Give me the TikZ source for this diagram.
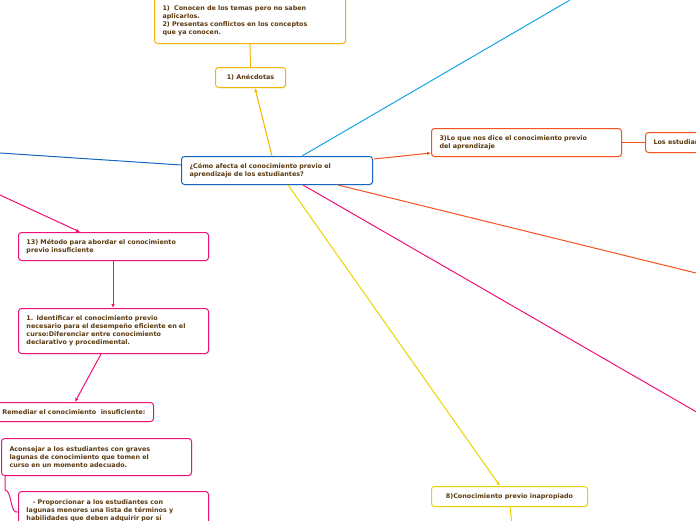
\documentclass[tikz,border=0pt]{standalone}
\usepackage{fontspec}
\setmainfont{DejaVu Sans}
\usetikzlibrary{arrows.meta,shadows}
\definecolor{txt}{HTML}{5A3A10}
\definecolor{cyanl}{HTML}{14A5E3}
\definecolor{bluel}{HTML}{1565C0}
\definecolor{orng}{HTML}{F5B400}
\definecolor{redo}{HTML}{F4511E}
\definecolor{pnk}{HTML}{F0107A}
\definecolor{ylw}{HTML}{EED200}
\begin{document}
\begin{tikzpicture}[x=1pt,y=-1pt, font=\bfseries\fontsize{6.4}{8}\selectfont, text=txt, line width=1pt]
  \tikzset{
    topic/.style={draw=#1, fill=white, rounded corners=3pt, drop shadow={opacity=0.15,shadow xshift=0.8pt,shadow yshift=-0.8pt},
      align=left, inner xsep=8pt, inner ysep=3pt, anchor=north west},
    conn/.style={draw=#1},
    arr/.style={draw=#1, -{Latex[length=4pt,width=3.5pt]}},
  }
  \useasboundingbox (0,0) rectangle (696,520);

  % nodes
  \node[topic=orng, minimum width=191pt, minimum height=46pt, text width=175pt] (probl) at (154,-3)
    {1)\ \ Conocen de los temas pero no saben\\aplicarlos.\\2) Presentas conflictos en los conceptos\\que ya conocen.};
  \node[topic=orng, minimum width=70pt, minimum height=20pt] (anec) at (215,67) {1) Anécdotas};
  \node[topic=bluel, minimum width=191pt, minimum height=28pt, text width=175pt] (main) at (181,156)
    {¿Cómo afecta el conocimiento previo el\\aprendizaje de los estudiantes?};
  \node[topic=redo, minimum width=190pt, minimum height=28pt, text width=174pt] (dice) at (431,128)
    {3)Lo que nos dice el conocimiento previo\\del aprendizaje};
  \node[topic=redo, minimum height=20pt] (estud) at (645,132) {Los estudiantes};
  \node[topic=pnk, minimum width=190pt, minimum height=28pt, text width=174pt] (metodo) at (18,232)
    {13) Método para abordar el conocimiento\\previo insuficiente};
  \node[topic=pnk, minimum width=190pt, minimum height=45pt, text width=174pt] (ident) at (18,308)
    {1. Identificar el conocimiento previo\\necesario para el desempeño eficiente en el\\curso:Diferenciar entre conocimiento\\declarativo y procedimental.};
  \node[topic=pnk, minimum height=19pt, anchor=north east] (remed) at (154,402)
    {Remediar el conocimiento\ \ insuficiente:};
  \node[topic=pnk, minimum width=190pt, minimum height=37pt, text width=174pt] (acons) at (1,438)
    {Aconsejar a los estudiantes con graves\\lagunas de conocimiento que tomen el\\curso en un momento adecuado.};
  \node[topic=pnk, minimum width=190pt, minimum height=45pt, text width=174pt] (propor) at (18,491)
    {\ \ \ - Proporcionar a los estudiantes con\\lagunas menores una lista de términos y\\habilidades que deben adquirir por sí\\mismos.};
  \node[topic=ylw, minimum width=156pt, minimum height=20pt] (inapro) at (431,486) {8)Conocimiento previo inapropiado};

  % free ends
  \coordinate (cyanend) at (570,0);
  \coordinate (blueend) at (0,153);
  \coordinate (redend) at (700,274);
  \coordinate (pinkend) at (700,414);
  \coordinate (pinkstart) at (0,195);
  \coordinate (ylwend) at (512,525);

  % connectors
  \draw[arr=orng] (main.north -| 272,0) -- (anec.south -| 255,0);
  \draw[conn=orng] (anec.north) -- (probl.south);
  \draw[conn=cyanl] (main.north -| 302,0) -- (cyanend);
  \draw[conn=bluel] (main.west |- 0,165) -- (blueend);
  \draw[arr=redo] (374,159) -- (dice.west |- 0,153);
  \draw[conn=redo] (dice.east) -- (estud.west);
  \draw[conn=redo] (main.south -| 338,0) -- (redend);
  \draw[conn=pnk] (main.south -| 303,0) -- (pinkend);
  \draw[arr=ylw] (main.south -| 288,0) -- (inapro.north -| 500,0);
  \draw[conn=ylw] (inapro.south -| 510,0) -- (ylwend);
  \draw[arr=pnk] (pinkstart) -- (metodo.north -| 80,0);
  \draw[arr=pnk] (metodo.south -| 113,0) -- (ident.north -| 113,0);
  \draw[arr=pnk] (ident.south -| 101,0) -- (remed.north -| 75,0);
  \draw[conn=pnk] (acons.south west) ++(4,0) -- ++(0,14) .. controls (12,490) and (10,515) .. (18,512);
\end{tikzpicture}
\end{document}
